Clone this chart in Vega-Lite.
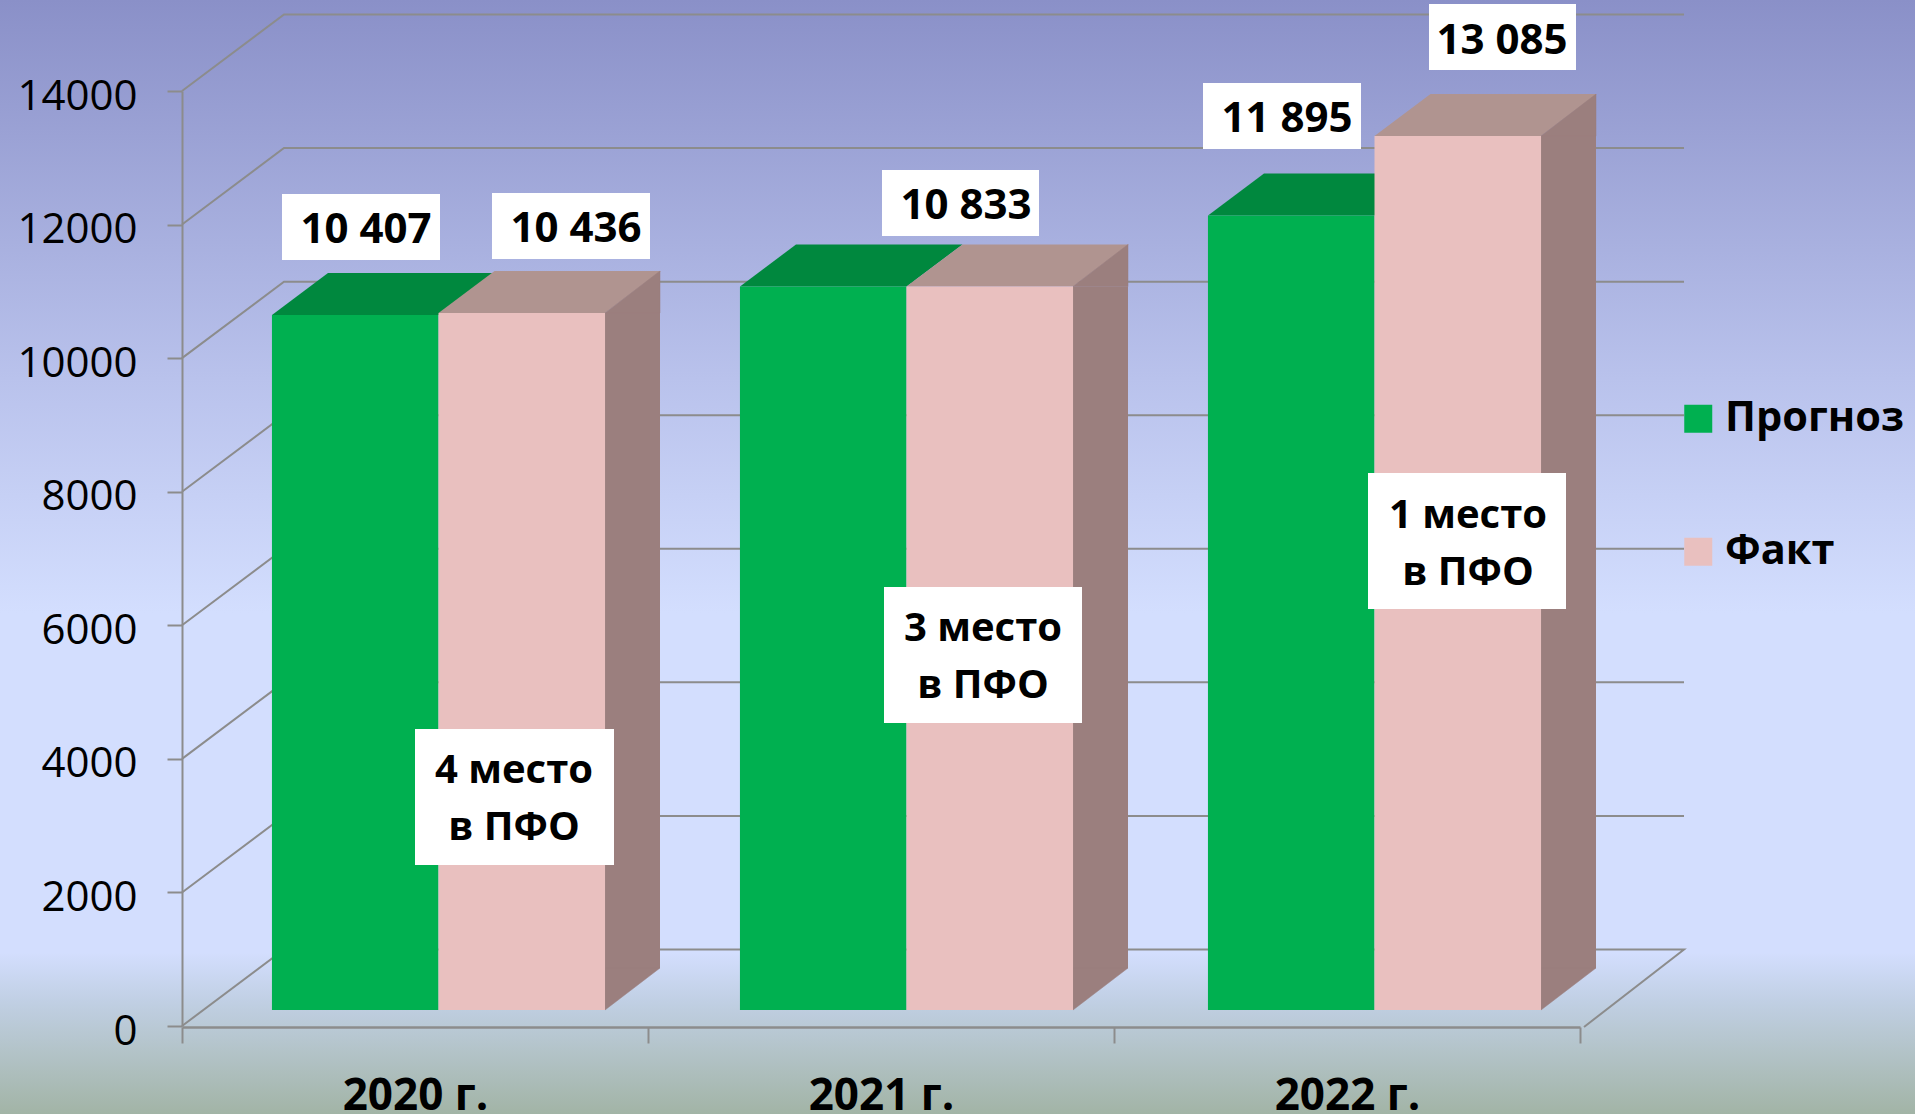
{
"$schema":"https://vega.github.io/schema/vega-lite/v6.json",
"width":1915,"height":1114,"padding":0,
"autosize":{"type":"none"},
"background":"#a2b4a6",
"view":{"stroke":null,"fill":{"gradient":"linear","x1":0,"y1":0,"x2":0,"y2":1,"stops":[{"offset":0,"color":"#8a90c8"},{"offset":0.34,"color":"#b9c2ec"},{"offset":0.55,"color":"#d3defe"},{"offset":0.855,"color":"#d3defe"},{"offset":0.9,"color":"#c0cfe3"},{"offset":1,"color":"#a2b4a6"}]}},
"datasets":{
"bars":[
{"year":"2020 г.","series":"Прогноз","value":10407},
{"year":"2020 г.","series":"Факт","value":10436},
{"year":"2021 г.","series":"Прогноз","value":10833},
{"year":"2021 г.","series":"Факт","value":10833},
{"year":"2022 г.","series":"Прогноз","value":11895},
{"year":"2022 г.","series":"Факт","value":13085}],
"ticks":[{"tick":2000},{"tick":4000},{"tick":6000},{"tick":8000},{"tick":10000},{"tick":12000},{"tick":14000}],
"floor":[{"tick":0}],
"notes":[
{"year":"2020 г.","note":"10 407"},
{"year":"2020 г.","note":"10 436"},
{"year":"2021 г.","note":"10 833"},
{"year":"2022 г.","note":"11 895"},
{"year":"2022 г.","note":"13 085"},
{"year":"2020 г.","note":"4 место\nв ПФО"},
{"year":"2021 г.","note":"3 место\nв ПФО"},
{"year":"2022 г.","note":"1 место\nв ПФО"}]
},
"resolve":{"scale":{"x":"independent"},"axis":{"x":"independent","y":"independent"}},
"layer":[
{"data":{"name":"bars"},
 "mark":{"type":"point","opacity":0},
 "encoding":{
  "x":{"field":"year","type":"nominal","scale":{"type":"band","domain":["2020 г.","2021 г.","2022 г."],"range":[182,1580],"paddingInner":0,"paddingOuter":0},
   "axis":{"title":null,"orient":"bottom","offset":-87,"domainColor":"#8c8c8c","domainWidth":2.5,"tickColor":"#8c8c8c","tickWidth":2,"tickSize":16,"tickBand":"extent","labelAngle":0,"labelFont":"Open Sans","labelFontSize":44,"labelFontWeight":"bold","labelColor":"#000000","labelPadding":31,"grid":false}},
  "y":{"field":"value","type":"quantitative","scale":{"domain":[0,14000],"range":[1026,91],"nice":false,"zero":true},
   "axis":{"title":null,"orient":"left","offset":-182,"values":[0,2000,4000,6000,8000,10000,12000,14000],"format":"d","domainColor":"#8c8c8c","domainWidth":2,"tickColor":"#8c8c8c","tickWidth":2,"tickSize":15,"labelFont":"Open Sans","labelFontSize":42,"labelColor":"#000000","labelPadding":30,"labelOffset":5,"grid":false}}
 }},
{"layer":[
 {"data":{"name":"ticks"},
  "mark":{"type":"point","filled":false,"opacity":1,"size":4,"stroke":"#8c8c8c","strokeWidth":2,"shape":"M-256.5,0L-154.5,-76.5L1245.5,-76.5"},
  "encoding":{"x":{"datum":"2020 г."},"y":{"field":"tick","type":"quantitative","axis":null}}},
 {"data":{"name":"floor"},
  "mark":{"type":"point","filled":false,"opacity":1,"size":4,"stroke":"#8c8c8c","strokeWidth":2,"shape":"M-256.5,0L-154.5,-76.5L1245.5,-76.5L1145.5,1"},
  "encoding":{"x":{"datum":"2020 г."},"y":{"field":"tick","type":"quantitative","axis":null}}},
 {"data":{"name":"bars"},"transform":[{"filter":"datum.series==='Прогноз'"}],
  "mark":{"type":"point","filled":true,"opacity":1,"size":4,"color":"#00883e","shape":"M-166.5,-16L0,-16L56,-58L-110.5,-58Z"},
  "encoding":{"y":{"field":"value","type":"quantitative","axis":null}}},
 {"data":{"name":"bars"},"transform":[{"filter":"datum.series==='Факт'"}],
  "mark":{"type":"point","filled":true,"opacity":1,"size":4,"color":"#b09490","shape":"M0,-16L166.5,-16L222.5,-58L56,-58Z"},
  "encoding":{"y":{"field":"value","type":"quantitative","axis":null}}},
 {"data":{"name":"bars"},"transform":[{"filter":"datum.series==='Факт'"}],
  "mark":{"type":"rule","color":"#9b7f7e","strokeWidth":55,"xOffset":194,"yOffset":-16,"y2Offset":-58},
  "encoding":{"y":{"field":"value","type":"quantitative","axis":null},"y2":{"datum":0}}},
 {"data":{"name":"bars"},"transform":[{"filter":"datum.series==='Факт'"}],
  "mark":{"type":"point","filled":true,"opacity":1,"size":4,"color":"#9b7f7e","stroke":"#9b7f7e","strokeWidth":0.5,"shape":"M166.5,-16L221.5,-58L221.5,-16Z"},
  "encoding":{"y":{"field":"value","type":"quantitative","axis":null}}},
 {"data":{"name":"bars"},"transform":[{"filter":"datum.series==='Факт'"}],
  "mark":{"type":"point","filled":true,"opacity":1,"size":4,"color":"#9b7f7e","stroke":"#9b7f7e","strokeWidth":0.5,"shape":"M166.5,-16L221.5,-58L166.5,-58Z"},
  "encoding":{"y":{"datum":0,"type":"quantitative","axis":null}}},
 {"data":{"name":"bars"},
  "mark":{"type":"bar","yOffset":-16,"y2Offset":-16},
  "encoding":{
   "xOffset":{"field":"series","type":"nominal","scale":{"domain":["Прогноз","Факт"],"paddingInner":0,"paddingOuter":0.405}},
   "y":{"field":"value","type":"quantitative","axis":null},"y2":{"datum":0},
   "color":{"field":"series","type":"nominal","scale":{"domain":["Прогноз","Факт"],"range":["#00b050","#e9c0bf"]},
    "legend":{"title":null,"orient":"none","legendX":1677.5,"legendY":398,"symbolType":"square","symbolSize":784,"symbolStrokeWidth":0,"symbolOpacity":1,"labelFont":"Open Sans","labelFontSize":41.5,"labelFontWeight":"bold","labelColor":"#000000","labelOffset":6,"rowPadding":90,"labelLimit":300}}}},
 {"data":{"name":"notes"},
  "mark":{"type":"point","filled":true,"opacity":1,"size":4,"color":"#ffffff"},
  "encoding":{"y":{"datum":0,"type":"quantitative","axis":null},
   "shape":{"field":"note","type":"nominal","legend":null,"scale":{"domain":["10 407","10 436","10 833","11 895","13 085","4 место\nв ПФО","3 место\nв ПФО","1 место\nв ПФО"],
    "range":["M-156.5,-832H1.5V-766H-156.5Z","M53.5,-833H211.5V-767H53.5Z","M-24.5,-856H132.5V-790H-24.5Z","M-171.5,-943H-13.5V-877H-171.5Z","M54.5,-1022H201.5V-956H54.5Z","M-23.5,-297H175.5V-161H-23.5Z","M-22.5,-439H175.5V-303H-22.5Z","M-6.5,-553H191.5V-417H-6.5Z"]}}}},
 {"data":{"name":"notes"},"transform":[{"filter":"datum.note==='10 407'"}],"mark":{"type":"text","font":"Open Sans","fontSize":42,"fontWeight":"bold","color":"#000000","align":"center","baseline":"alphabetic","dx":-72.5,"dy":-783},"encoding":{"y":{"datum":0,"type":"quantitative","axis":null},"text":{"field":"note"}}},
 {"data":{"name":"notes"},"transform":[{"filter":"datum.note==='10 436'"}],"mark":{"type":"text","font":"Open Sans","fontSize":42,"fontWeight":"bold","color":"#000000","align":"center","baseline":"alphabetic","dx":137.5,"dy":-784},"encoding":{"y":{"datum":0,"type":"quantitative","axis":null},"text":{"field":"note"}}},
 {"data":{"name":"notes"},"transform":[{"filter":"datum.note==='10 833'"}],"mark":{"type":"text","font":"Open Sans","fontSize":42,"fontWeight":"bold","color":"#000000","align":"center","baseline":"alphabetic","dx":59.5,"dy":-807},"encoding":{"y":{"datum":0,"type":"quantitative","axis":null},"text":{"field":"note"}}},
 {"data":{"name":"notes"},"transform":[{"filter":"datum.note==='11 895'"}],"mark":{"type":"text","font":"Open Sans","fontSize":42,"fontWeight":"bold","color":"#000000","align":"center","baseline":"alphabetic","dx":-87.5,"dy":-894},"encoding":{"y":{"datum":0,"type":"quantitative","axis":null},"text":{"field":"note"}}},
 {"data":{"name":"notes"},"transform":[{"filter":"datum.note==='13 085'"}],"mark":{"type":"text","font":"Open Sans","fontSize":42,"fontWeight":"bold","color":"#000000","align":"center","baseline":"alphabetic","dx":127.5,"dy":-972},"encoding":{"y":{"datum":0,"type":"quantitative","axis":null},"text":{"field":"note"}}},
 {"data":{"name":"notes"},"transform":[{"filter":"indexof(datum.note,'4 место')===0"}],"mark":{"type":"text","font":"Open Sans","fontSize":40,"fontWeight":"bold","color":"#000000","align":"center","baseline":"alphabetic","lineBreak":"\n","lineHeight":57,"dx":75.5,"dy":-243},"encoding":{"y":{"datum":0,"type":"quantitative","axis":null},"text":{"field":"note"}}},
 {"data":{"name":"notes"},"transform":[{"filter":"indexof(datum.note,'3 место')===0"}],"mark":{"type":"text","font":"Open Sans","fontSize":40,"fontWeight":"bold","color":"#000000","align":"center","baseline":"alphabetic","lineBreak":"\n","lineHeight":57,"dx":76.5,"dy":-385},"encoding":{"y":{"datum":0,"type":"quantitative","axis":null},"text":{"field":"note"}}},
 {"data":{"name":"notes"},"transform":[{"filter":"indexof(datum.note,'1 место')===0"}],"mark":{"type":"text","font":"Open Sans","fontSize":40,"fontWeight":"bold","color":"#000000","align":"center","baseline":"alphabetic","lineBreak":"\n","lineHeight":57,"dx":93.5,"dy":-498},"encoding":{"y":{"datum":0,"type":"quantitative","axis":null},"text":{"field":"note"}}}
 ],
 "encoding":{"x":{"field":"year","type":"nominal","axis":null,"scale":{"type":"band","domain":["2020 г.","2021 г.","2022 г."],"range":[204.5,1608.5],"paddingInner":0,"paddingOuter":0}}}
}
]
}
